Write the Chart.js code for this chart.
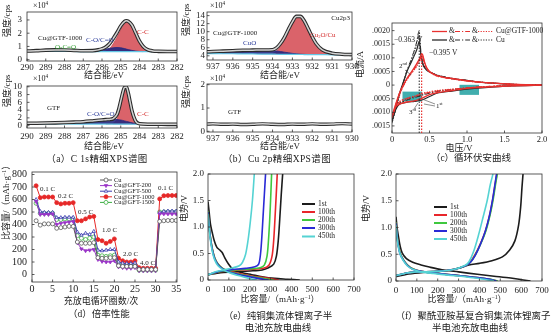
<!DOCTYPE html>
<html>
<head>
<meta charset="utf-8">
<script src="https://cdn.jsdelivr.net/npm/chart.js@4.4.1/dist/chart.umd.min.js"></script>
<style>
  html, body { margin: 0; padding: 0; background: #fff; }
  #page { position: relative; width: 553px; height: 335px; overflow: hidden; }
  #page canvas { position: absolute; left: 0; top: 0; }
  .cap { position: absolute; transform: translate(-50%, -50%); white-space: nowrap;
         font: 9.5px "Liberation Serif", "Noto Sans CJK SC", serif; color: #222; }
</style>
</head>
<body>
<div id="page">
  <canvas id="aTop" width="553" height="335"></canvas>
  <canvas id="aBot" width="553" height="335"></canvas>
  <canvas id="bTop" width="553" height="335"></canvas>
  <canvas id="bBot" width="553" height="335"></canvas>
  <canvas id="cv" width="553" height="335"></canvas>
  <canvas id="rate" width="553" height="335"></canvas>
  <canvas id="cuCell" width="553" height="335"></canvas>
  <canvas id="piCell" width="553" height="335"></canvas>
  <div class="cap" style="left:97px;top:158px;letter-spacing:0.4px">（a）C 1s精细XPS谱图</div>
  <div class="cap" style="left:277px;top:158px;letter-spacing:0.4px">（b）Cu 2p精细XPS谱图</div>
  <div class="cap" style="left:471px;top:157px">（c）循环伏安曲线</div>
  <div class="cap" style="left:99px;top:313px">（d）倍率性能</div>
  <div class="cap" style="left:278px;top:315px">（e）纯铜集流体锂离子半</div>
  <div class="cap" style="left:278px;top:327px">电池充放电曲线</div>
  <div class="cap" style="left:473px;top:315px">（f）聚酰亚胺基复合铜集流体锂离子</div>
  <div class="cap" style="left:470px;top:327px">半电池充放电曲线</div>
</div>
<script>
// ---- C 1s, Cu@GTF-1000 (x10^4 cps) ----
const aTopX = [290, 289.5, 289, 288.5, 288, 287.5, 287, 286.5, 286.2, 286, 285.8, 285.6, 285.4, 285.2, 285, 284.8, 284.7, 284.6, 284.4, 284.2, 284, 283.8, 283.6, 283.3, 283, 282.5, 282];
const aTopFit = [0.65, 0.68, 0.72, 0.74, 0.73, 0.7, 0.67, 0.68, 0.74, 0.82, 0.95, 1.2, 1.6, 2.05, 2.55, 2.88, 2.93, 2.9, 2.6, 2.0, 1.4, 1.0, 0.78, 0.66, 0.63, 0.62, 0.62];
const aTopBase = [0.62, 0.62, 0.62, 0.62, 0.62, 0.62, 0.61, 0.61, 0.61, 0.61, 0.61, 0.61, 0.61, 0.61, 0.61, 0.61, 0.61, 0.61, 0.61, 0.61, 0.61, 0.61, 0.6, 0.6, 0.6, 0.6, 0.6];
const aTopOCO = [0.64, 0.68, 0.71, 0.73, 0.71, 0.67, 0.63, 0.61, null, null, null, null, null, null, null, null, null, null, null, null, null, null, null, null, null, null, null];
const aTopCO = [null, null, null, null, null, null, 0.61, 0.65, 0.7, 0.75, 0.8, 0.86, 0.9, 0.92, 0.9, 0.84, 0.8, 0.76, 0.7, 0.65, 0.62, 0.61, null, null, null, null, null];
const aTopCC = [null, null, null, null, null, null, null, null, null, 0.61, 0.66, 0.82, 1.2, 1.7, 2.25, 2.7, 2.8, 2.78, 2.5, 1.92, 1.36, 0.98, 0.76, 0.64, 0.6, null, null];

// ---- C 1s, GTF ----
const aBotX = [290, 289.5, 289, 288.5, 288, 287.5, 287, 286.5, 286, 285.8, 285.6, 285.4, 285.2, 285.1, 285, 284.9, 284.8, 284.7, 284.6, 284.5, 284.4, 284.2, 284, 283.5, 283, 282.5, 282];
const aBotFit = [0.62, 0.64, 0.67, 0.72, 0.8, 0.9, 1.02, 1.22, 1.44, 1.55, 1.6, 1.81, 2.89, 4.33, 6.36, 8.37, 9.84, 9.92, 8.4, 6.07, 3.77, 1.13, 0.49, 0.36, 0.35, 0.34, 0.34];
const aBotBase = [0.45, 0.45, 0.44, 0.44, 0.43, 0.42, 0.42, 0.41, 0.4, 0.4, 0.4, 0.39, 0.39, 0.39, 0.39, 0.38, 0.38, 0.38, 0.38, 0.38, 0.37, 0.37, 0.36, 0.35, 0.35, 0.34, 0.34];
const aBotCO = [0.6, 0.62, 0.65, 0.7, 0.78, 0.88, 1.0, 1.2, 1.42, 1.52, 1.58, 1.6, 1.58, 1.52, 1.45, 1.35, 1.22, 1.1, 0.98, 0.85, 0.74, 0.55, 0.43, 0.36, 0.35, 0.34, 0.34];
const aBotCC = [null, null, null, null, null, null, null, null, null, 0.4, 0.42, 0.6, 1.7, 3.2, 5.3, 7.4, 9.0, 9.2, 7.8, 5.6, 3.4, 0.95, 0.42, 0.35, null, null, null];

// ---- Cu 2p3, Cu@GTF-1000 ----
const bX = [937.3, 937, 936.5, 936, 935.5, 935, 934.5, 934, 933.8, 933.6, 933.4, 933.2, 933, 932.8, 932.6, 932.4, 932.2, 932, 931.8, 931.5, 931, 930.5, 930];
const bFit = [5.0, 5.05, 5.15, 5.25, 5.35, 5.4, 5.45, 5.5, 5.95, 7.05, 8.6, 10.6, 12.45, 13.8, 13.8, 12.65, 10.7, 8.7, 7.0, 5.5, 4.65, 4.4, 4.3];
const bBase = [4.55, 4.55, 4.5, 4.5, 4.45, 4.45, 4.4, 4.4, 4.38, 4.37, 4.36, 4.35, 4.34, 4.33, 4.32, 4.31, 4.3, 4.3, 4.28, 4.27, 4.25, 4.22, 4.2];
const bCuO = [4.95, 5.0, 5.1, 5.2, 5.3, 5.35, 5.35, 5.3, 5.2, 5.05, 4.9, 4.75, 4.6, 4.5, 4.4, 4.35, 4.3, null, null, null, null, null, null];
const bCu2O = [null, null, null, null, null, null, null, 4.5, 5.2, 6.4, 8.1, 10.2, 12.2, 13.6, 13.7, 12.6, 10.7, 8.7, 7.0, 5.5, 4.6, 4.3, null];

// ---- Cu 2p, GTF ----
const bGtfX = [937.3, 937, 936.5, 936, 935.5, 935, 934.5, 934, 933.5, 933, 932.5, 932, 931.5, 931, 930.5, 930];
const bGtf = [0.31, 0.32, 0.3, 0.31, 0.29, 0.3, 0.32, 0.3, 0.29, 0.31, 0.3, 0.32, 0.3, 0.31, 0.33, 0.31];

// ---- cyclic voltammetry (V, A): cathodic sweep 2.0 -> 0, then anodic 0 -> 2.0 ----
const cvVRed = [2.0, 1.6, 1.2, 1.0, 0.8, 0.6, 0.5, 0.4, 0.3, 0.2, 0.1, 0.05, 0.0, 0.05, 0.1, 0.15, 0.2, 0.25, 0.3, 0.35, 0.38, 0.395, 0.41, 0.43, 0.46, 0.5, 0.6, 0.8, 1.0, 1.2, 1.6, 2.0];
const cvGtf1 = [0, -0.00003, -0.00008, -0.00012, -0.0002, -0.00028, -0.00035, -0.00048, -0.00058, -0.00062, -0.0007, -0.0008, -0.00115, -0.0007, -0.0003, 0.0, 0.00025, 0.00045, 0.00065, 0.00088, 0.00105, 0.00115, 0.0011, 0.00088, 0.00065, 0.0005, 0.00035, 0.00024, 0.00016, 0.0001, 0.00003, 0];
const cvGtf2 = [0, -0.00002, -0.00006, -0.0001, -0.00016, -0.00022, -0.00027, -0.00033, -0.00042, -0.0005, -0.00062, -0.00078, -0.00118, -0.00072, -0.00032, -0.00002, 0.00022, 0.00042, 0.0006, 0.00082, 0.00099, 0.00108, 0.00104, 0.00084, 0.00063, 0.00049, 0.00034, 0.00023, 0.00015, 0.0001, 0.00003, 0];
const cvGtf3 = [0, -0.00002, -0.00006, -0.0001, -0.00015, -0.0002, -0.00025, -0.0003, -0.0004, -0.00048, -0.0006, -0.00076, -0.0012, -0.00074, -0.00034, -0.00004, 0.0002, 0.0004, 0.00057, 0.00078, 0.00094, 0.00102, 0.00099, 0.0008, 0.00061, 0.00048, 0.00033, 0.00023, 0.00015, 0.0001, 0.00003, 0];
const cvVBlack = [2.0, 1.6, 1.2, 1.0, 0.8, 0.6, 0.5, 0.4, 0.3, 0.2, 0.1, 0.05, 0.0, 0.05, 0.1, 0.15, 0.2, 0.25, 0.3, 0.33, 0.35, 0.363, 0.375, 0.39, 0.42, 0.46, 0.5, 0.6, 0.8, 1.0, 1.2, 1.6, 2.0];
const cvCu1 = [0, -0.00003, -0.0001, -0.00015, -0.00022, -0.0003, -0.00042, -0.00055, -0.0006, -0.00063, -0.0007, -0.0009, -0.0013, -0.0008, -0.0003, 0.0001, 0.0005, 0.0008, 0.0011, 0.0013, 0.0015, 0.0016, 0.0014, 0.001, 0.0007, 0.00055, 0.00048, 0.00036, 0.00024, 0.00017, 0.0001, 0.00003, 0];
const cvCu2 = [0, -0.00002, -0.00007, -0.00011, -0.00017, -0.00024, -0.0003, -0.00038, -0.00046, -0.00055, -0.00068, -0.0009, -0.00135, -0.00085, -0.00035, 0.0001, 0.00055, 0.0009, 0.0013, 0.0016, 0.0019, 0.002, 0.0016, 0.0011, 0.00075, 0.00058, 0.0005, 0.00037, 0.00025, 0.00017, 0.0001, 0.00003, 0];
const cvCu3 = [0, -0.00002, -0.00007, -0.00011, -0.00016, -0.00022, -0.00028, -0.00035, -0.00043, -0.00052, -0.00066, -0.00088, -0.0014, -0.0009, -0.0004, 0.00005, 0.0005, 0.00085, 0.00125, 0.00155, 0.00182, 0.0019, 0.00155, 0.00105, 0.00072, 0.00056, 0.00049, 0.00036, 0.00024, 0.00017, 0.0001, 0.00003, 0];
const cvPeakRed = 0.395, cvPeakBlack = 0.363;
const cvBoxes = [[0.14, 0.4, -0.00024, -0.0006], [0.9, 1.16, 0.00001, -0.00036]];

// ---- rate capability (mAh/g) ----
const rateCycle = Array.from({ length: 35 }, (_, i) => i + 1);
const rateCu = [430, 395, 405, 405, 405, 370, 375, 380, 385, 385, 260, 250, 250, 250, 255, 135, 130, 130, 135, 135, 70, 65, 65, 65, 65, 40, 40, 40, 40, 40, 425, 430, 432, 432, 432];
const rate200 = [585, 480, 480, 480, 485, 400, 410, 415, 420, 425, 255, 205, 190, 195, 200, 120, 105, 100, 100, 110, 60, 55, 50, 50, 55, 30, 30, 30, 30, 30, 485, 485, 485, 485, 485];
const rate500 = [600, 505, 497, 497, 497, 455, 455, 458, 458, 458, 340, 315, 330, 320, 345, 195, 190, 195, 200, 200, 100, 90, 88, 88, 92, 45, 45, 45, 45, 45, 495, 505, 508, 508, 508];
const rate1000 = [710, 615, 620, 620, 620, 575, 565, 570, 570, 575, 430, 430, 445, 460, 465, 280, 270, 250, 265, 285, 130, 110, 100, 100, 110, 55, 50, 50, 50, 50, 605, 630, 632, 632, 632];
const rate1500 = [570, 490, 490, 490, 490, 440, 440, 445, 445, 445, 310, 290, 280, 290, 300, 155, 150, 145, 150, 155, 80, 75, 70, 70, 75, 35, 35, 35, 35, 35, 500, 500, 500, 500, 500];
const rateNames = ['Cu', 'Cu@GFT-200', 'Cu@GFT-500', 'Cu@GFT-1000', 'Cu@GFT-1500'];
const rateSteps = ['0.1 C', '0.2 C', '0.5 C', '1.0 C', '2.0 C', '4.0 C', '0.1 C'];

// ---- galvanostatic curves, [capacity mAh/g, voltage V] ----
const cycleNames = ['1st', '100th', '200th', '300th', '450th'];
const cuChg1 = [[0, 0.1], [60, 0.14], [120, 0.15], [200, 0.17], [260, 0.19], [290, 0.23], [315, 0.3], [328, 0.45], [337, 0.75], [344, 1.15], [351, 1.6], [358, 2.0]];
const cuChg100 = [[0, 0.1], [60, 0.16], [120, 0.18], [200, 0.2], [265, 0.22], [292, 0.28], [307, 0.45], [315, 0.75], [321, 1.15], [327, 1.6], [332, 2.0]];
const cuChg200 = [[0, 0.1], [60, 0.16], [120, 0.19], [200, 0.21], [250, 0.23], [270, 0.28], [283, 0.45], [290, 0.75], [296, 1.15], [301, 1.6], [305, 2.0]];
const cuChg300 = [[0, 0.1], [60, 0.17], [120, 0.2], [180, 0.22], [225, 0.25], [243, 0.3], [252, 0.5], [258, 0.8], [264, 1.2], [270, 1.6], [276, 2.0]];
const cuChg450 = [[0, 0.1], [40, 0.16], [75, 0.19], [120, 0.23], [150, 0.27], [165, 0.33], [180, 0.48], [192, 0.75], [203, 1.1], [213, 1.5], [222, 2.0]];
const cuDis1 = [[0, 1.48], [5, 1.3], [12, 1.05], [20, 0.9], [30, 0.74], [42, 0.62], [55, 0.57], [68, 0.52], [80, 0.42], [95, 0.32], [120, 0.2], [160, 0.14], [210, 0.1], [260, 0.06], [320, 0.03], [380, 0.015], [440, 0]];
const cuDis100 = [[0, 1.3], [4, 1.1], [10, 0.85], [20, 0.6], [32, 0.42], [48, 0.3], [70, 0.22], [100, 0.17], [150, 0.12], [200, 0.08], [260, 0.05], [310, 0.02], [340, 0]];
const cuDis200 = [[0, 1.3], [4, 1.1], [10, 0.85], [20, 0.6], [32, 0.42], [48, 0.3], [70, 0.22], [100, 0.16], [150, 0.11], [200, 0.07], [250, 0.04], [290, 0.015], [315, 0]];
const cuDis300 = [[0, 1.28], [4, 1.08], [10, 0.83], [20, 0.58], [32, 0.4], [48, 0.29], [70, 0.21], [100, 0.15], [150, 0.1], [200, 0.06], [240, 0.03], [270, 0.01], [290, 0]];
const cuDis450 = [[0, 1.25], [4, 1.05], [10, 0.8], [20, 0.55], [32, 0.38], [48, 0.27], [70, 0.2], [100, 0.14], [140, 0.09], [180, 0.05], [210, 0.02], [235, 0]];

const piChg1 = [[0, 0.08], [60, 0.13], [130, 0.16], [200, 0.175], [260, 0.2], [310, 0.25], [350, 0.3], [400, 0.33], [460, 0.38], [510, 0.45], [545, 0.58], [570, 0.75], [588, 1.05], [598, 1.4], [604, 1.75], [609, 2.0]];
const piChg100 = [[0, 0.1], [50, 0.15], [100, 0.17], [200, 0.18], [280, 0.22], [330, 0.28], [355, 0.35], [380, 0.5], [405, 0.7], [430, 0.95], [450, 1.25], [465, 1.55], [477, 1.85], [484, 2.0]];
const piChg200 = [[0, 0.1], [50, 0.15], [100, 0.17], [200, 0.18], [280, 0.22], [330, 0.28], [357, 0.35], [382, 0.5], [407, 0.7], [432, 0.95], [452, 1.25], [467, 1.55], [479, 1.85], [486, 2.0]];
const piChg300 = [[0, 0.1], [50, 0.15], [100, 0.17], [200, 0.18], [280, 0.22], [330, 0.28], [355, 0.34], [380, 0.48], [404, 0.68], [428, 0.93], [448, 1.22], [463, 1.52], [475, 1.82], [482, 2.0]];
const piChg450 = [[0, 0.1], [50, 0.15], [100, 0.17], [200, 0.18], [280, 0.22], [330, 0.29], [350, 0.36], [372, 0.55], [395, 0.85], [418, 1.2], [437, 1.5], [452, 1.8], [465, 2.0]];
const piDis1 = [[0, 1.2], [5, 1.0], [11, 0.85], [20, 0.65], [30, 0.52], [50, 0.42], [80, 0.35], [120, 0.3], [160, 0.26], [220, 0.21], [300, 0.17], [390, 0.125], [470, 0.09], [550, 0.055], [610, 0.02], [645, 0]];
const piDis100 = [[0, 1.1], [4, 0.9], [10, 0.7], [20, 0.52], [35, 0.4], [55, 0.3], [80, 0.23], [120, 0.18], [180, 0.15], [250, 0.12], [330, 0.09], [400, 0.06], [450, 0.03], [485, 0]];
const piDis200 = [[0, 1.1], [4, 0.9], [10, 0.7], [20, 0.52], [35, 0.4], [55, 0.3], [80, 0.23], [120, 0.18], [180, 0.15], [250, 0.12], [330, 0.09], [400, 0.06], [455, 0.03], [488, 0]];
const piDis300 = [[0, 1.08], [4, 0.88], [10, 0.68], [20, 0.5], [35, 0.39], [55, 0.29], [80, 0.22], [120, 0.18], [180, 0.15], [250, 0.12], [330, 0.09], [400, 0.06], [450, 0.03], [482, 0]];
const piDis450 = [[0, 1.05], [4, 0.85], [10, 0.66], [20, 0.5], [35, 0.38], [55, 0.28], [80, 0.22], [120, 0.17], [180, 0.14], [250, 0.11], [330, 0.08], [390, 0.05], [440, 0.02], [470, 0]];
const cycleColors = ['#1c1c1c', '#e8262b', '#3ec83e', '#2a2ad6', '#55d3d3'];

// ---------------------------------------------------------------
const W = 553, H = 335;
const FONT = '"Liberation Serif", "Noto Sans CJK SC", serif';
const INK = '#222';
const RED = '#e8312f';

const pts = (xs, ys) => xs.map((x, i) => ({ x, y: ys[i] }));
const pairs = arr => arr.map(([x, y]) => ({ x, y }));

function line(data, color, width, more) {
  return Object.assign({ data, borderColor: color, backgroundColor: color, borderWidth: width, fill: false, pointRadius: 0, tension: 0 }, more || {});
}

function tk(step, size, pad, cb) {
  return { stepSize: step, includeBounds: false, autoSkip: false, maxRotation: 0, minRotation: 0,
           padding: pad, color: INK, font: { family: FONT, size }, callback: cb || (v => String(Math.round(v))) };
}
function sc(min, max, ticks, extra) {
  return Object.assign({ type: 'linear', min, max, ticks, grid: { display: false, drawTicks: false }, border: { display: false } }, extra || {});
}
const dec = d => v => Math.abs(v) < 1e-9 ? '0' : (v < 0 ? '−' : '') + Math.abs(v).toFixed(d);

// text with optional super/subscript parts: 'txt' or ['txt', 1 | -1]
function rich(ctx, segs, x, y, size, color, align, rot) {
  ctx.save();
  ctx.translate(x, y);
  if (rot) ctx.rotate(rot);
  ctx.fillStyle = color;
  ctx.textBaseline = 'middle';
  ctx.textAlign = 'left';
  const parts = segs.map(s => typeof s === 'string' ? [s, 0] : s);
  const fontOf = sh => `${sh ? size * 0.65 : size}px ${FONT}`;
  let w = 0;
  parts.forEach(([t, sh]) => { ctx.font = fontOf(sh); w += ctx.measureText(t).width; });
  let cx = align === 'center' ? -w / 2 : align === 'right' ? -w : 0;
  parts.forEach(([t, sh]) => {
    ctx.font = fontOf(sh);
    ctx.fillText(t, cx, -sh * size * 0.3);
    cx += ctx.measureText(t).width;
  });
  ctx.restore();
}

function seg(ctx, x1, y1, x2, y2, color, width, dash) {
  ctx.save();
  ctx.strokeStyle = color; ctx.lineWidth = width; ctx.setLineDash(dash || []);
  ctx.beginPath(); ctx.moveTo(x1, y1); ctx.lineTo(x2, y2); ctx.stroke();
  ctx.restore();
}

// box outline and short inward ticks
const frame = {
  id: 'frame',
  afterDraw(chart) {
    const { ctx, chartArea: a, scales } = chart;
    ctx.save();
    ctx.strokeStyle = '#333'; ctx.lineWidth = 0.8;
    ctx.strokeRect(a.left, a.top, a.right - a.left, a.bottom - a.top);
    scales.x.ticks.forEach(t => { const p = scales.x.getPixelForValue(t.value); seg(ctx, p, a.bottom, p, a.bottom - 2.5, '#333', 0.8); });
    scales.y.ticks.forEach(t => { const p = scales.y.getPixelForValue(t.value); seg(ctx, a.left, p, a.left + 2.5, p, '#333', 0.8); });
    ctx.restore();
  }
};

function extras(notes, before, after) {
  return {
    id: 'extras',
    beforeDatasetsDraw(chart) { if (before) before(chart, chart.ctx); },
    afterDraw(chart) {
      const ctx = chart.ctx;
      if (after) after(chart, ctx);
      notes.forEach(n => rich(ctx, [].concat(n.s), n.x, n.y, n.size || 9, n.color || INK, n.align || 'left', n.rot || 0));
    }
  };
}

function panel(id, box, x, y, datasets, notes, before, after) {
  const yW = 20, xH = 14;
  x.afterFit = s => { s.height = xH; };
  y.afterFit = s => { s.width = yW; };
  return new Chart(document.getElementById(id), {
    type: 'line',
    data: { datasets },
    options: {
      responsive: false, animation: false, devicePixelRatio: 1,
      layout: { padding: { left: box.l - yW, top: box.t, right: W - box.r, bottom: H - box.b - xH } },
      plugins: { legend: { display: false }, tooltip: { enabled: false } },
      scales: { x, y }
    },
    plugins: [frame, extras(notes || [], before, after)]
  });
}

const UP = -Math.PI / 2;
const X10 = ['×10', ['4', 1]];
const MONO = { cubicInterpolationMode: 'monotone' };
const PEAK_RED = 'rgba(214,82,90,0.9)';
const PEAK_NAVY = 'rgba(38,40,128,0.9)';
const BASE_BLUE = '#63c7e6';

function xpsSets(xs, base, fit, comps) {
  const sets = [line(pts(xs, base), BASE_BLUE, 1.2, Object.assign({ order: 2 }, MONO))];
  comps.forEach(c => sets.push(line(pts(xs, c.y), c.line, 0.8, Object.assign({ order: c.order, fill: c.fill === false ? false : 0, backgroundColor: c.fillColor }, MONO))));
  sets.push(line(pts(xs, fit), '#2a2a2a', 3.6, Object.assign({ order: 1 }, MONO)));
  sets.push(line(pts(xs, fit), '#d4d4d4', 1.5, Object.assign({ order: 0 }, MONO)));
  return sets;
}

// (a) C 1s
panel('aTop', { l: 27, t: 12, r: 177, b: 61 },
  sc(282, 290, tk(1, 9, 1), { reverse: true }),
  sc(-0.1, 3.6, tk(1, 9, 5)),
  xpsSets(aTopX, aTopBase, aTopFit, [
    { y: aTopCC, line: '#c9464e', fillColor: PEAK_RED, order: 5 },
    { y: aTopCO, line: '#262880', fillColor: PEAK_NAVY, order: 4 },
    { y: aTopOCO, line: '#3aa83a', fill: false, order: 3 }
  ]),
  [
    { s: '强度/cps', x: 8, y: 37, rot: UP },
    { s: X10, x: 33, y: 6, size: 8 },
    { s: '结合能/eV', x: 104, y: 76, align: 'center' },
    { s: 'Cu@GTF-1000', x: 38, y: 38, size: 7 },
    { s: 'O-C=O', x: 55, y: 47, size: 7, color: '#2f9e2f' },
    { s: 'C-O/C=O', x: 86, y: 40, size: 7, color: '#2a3b9a' },
    { s: 'C-C', x: 137, y: 32, size: 7, color: '#d42b2b' }
  ]);

panel('aBot', { l: 27, t: 86, r: 177, b: 128 },
  sc(282, 290, tk(1, 9, 3), { reverse: true }),
  sc(-0.6, 10.2, tk(2, 9, 5)),
  xpsSets(aBotX, aBotBase, aBotFit, [
    { y: aBotCC, line: '#c9464e', fillColor: PEAK_RED, order: 5 },
    { y: aBotCO, line: '#262880', fillColor: PEAK_NAVY, order: 4 }
  ]),
  [
    { s: '强度/cps', x: 8, y: 107, rot: UP },
    { s: X10, x: 33, y: 79, size: 8 },
    { s: '结合能/eV', x: 104, y: 147, align: 'center' },
    { s: 'GTF', x: 47, y: 108, size: 7 },
    { s: 'C-O/C=O', x: 87, y: 114, size: 7, color: '#2a3b9a' },
    { s: 'C-C', x: 137, y: 114, size: 7, color: '#d42b2b' }
  ]);

// (b) Cu 2p
panel('bTop', { l: 207, t: 12, r: 352, b: 60 },
  sc(930, 937.3, tk(1, 9, 1), { reverse: true }),
  sc(2.95, 14.9, tk(2, 9, 2)),
  xpsSets(bX, bBase, bFit, [
    { y: bCu2O, line: '#c9464e', fillColor: PEAK_RED, order: 5 },
    { y: bCuO, line: '#262880', fillColor: PEAK_NAVY, order: 4 }
  ]),
  [
    { s: '强度/cps', x: 187, y: 36, rot: UP },
    { s: X10, x: 210, y: 6, size: 8 },
    { s: '结合能/eV', x: 280, y: 76, align: 'center' },
    { s: 'Cu@GTF-1000', x: 213, y: 33, size: 7 },
    { s: 'CuO', x: 243, y: 43, size: 7, color: '#2a3b9a' },
    { s: ['Cu', ['2', -1], 'O/Cu'], x: 310, y: 35, size: 7, color: '#d42b2b' },
    { s: 'Cu2p3', x: 350, y: 18, size: 7, align: 'right' }
  ]);

panel('bBot', { l: 207, t: 84, r: 352, b: 132 },
  sc(930, 937.3, tk(1, 9, 1), { reverse: true }),
  sc(-0.03, 2.03, tk(1, 9, 2)),
  [
    line(pts(bGtfX, bGtf), '#2a2a2a', 3.4, Object.assign({ order: 1 }, MONO)),
    line(pts(bGtfX, bGtf), '#d4d4d4', 1.5, Object.assign({ order: 0 }, MONO))
  ],
  [
    { s: '强度/cps', x: 187, y: 108, rot: UP },
    { s: X10, x: 210, y: 79, size: 8 },
    { s: '结合能/eV', x: 280, y: 147, align: 'center' },
    { s: 'GTF', x: 228, y: 112, size: 7 }
  ]);

// (c) cyclic voltammetry
const DASHDOT = [5, 2, 1.2, 2];
const DOTTED = [1.2, 1.4];
panel('cv', { l: 392, t: 23, r: 542, b: 133 },
  sc(0, 2.0, tk(0.5, 8.5, 2, v => v === 0 ? '0' : v.toFixed(1))),
  sc(-0.00176, 0.00228, tk(0.0005, 8, 2, dec(4))),
  [
    line(pts(cvVRed, cvGtf1), RED, 1.4, { tension: 0.25 }),
    line(pts(cvVRed, cvGtf2), RED, 1.2, { tension: 0.25, borderDash: DASHDOT }),
    line(pts(cvVRed, cvGtf3), RED, 1.2, { tension: 0.25, borderDash: DOTTED }),
    line(pts(cvVBlack, cvCu1), '#2b2b2b', 1.2, { tension: 0.25 }),
    line(pts(cvVBlack, cvCu2), '#2b2b2b', 1.0, { tension: 0.25, borderDash: DASHDOT }),
    line(pts(cvVBlack, cvCu3), '#2b2b2b', 1.0, { tension: 0.25, borderDash: DOTTED })
  ],
  [
    { s: '电流/A', x: 361, y: 78, rot: UP },
    { s: '电压/V', x: 459, y: 148.5, align: 'center' },
    { s: '−0.363 V', x: 394, y: 40, size: 7.5 },
    { s: '−0.395 V', x: 429, y: 53, size: 7.5 },
    { s: '&', x: 449, y: 31.5, size: 7.5 },
    { s: '&', x: 472, y: 31.5, size: 7.5 },
    { s: 'Cu@GTF-1000', x: 496, y: 31.5, size: 7.5 },
    { s: '&', x: 449, y: 40, size: 7.5 },
    { s: '&', x: 472, y: 40, size: 7.5 },
    { s: 'Cu', x: 496, y: 40, size: 7.5 },
    { s: ['2', ['nd', 1]], x: 399, y: 66, size: 7 },
    { s: ['3', ['rd', 1]], x: 409, y: 112, size: 7 },
    { s: ['1', ['st', 1]], x: 436, y: 106, size: 7 }
  ],
  (chart, ctx) => {
    const sx = chart.scales.x, sy = chart.scales.y;
    ctx.save();
    ctx.fillStyle = 'rgba(32,160,160,0.85)';
    cvBoxes.forEach(([x1, x2, y1, y2]) => {
      const px = sx.getPixelForValue(x1), py = sy.getPixelForValue(y1);
      ctx.fillRect(px, py, sx.getPixelForValue(x2) - px, sy.getPixelForValue(y2) - py);
    });
    ctx.restore();
  },
  (chart, ctx) => {
    const sx = chart.scales.x, sy = chart.scales.y;
    const bottom = chart.chartArea.bottom;
    seg(ctx, sx.getPixelForValue(cvPeakBlack), bottom, sx.getPixelForValue(cvPeakBlack), sy.getPixelForValue(Math.max(...cvCu2)), '#2b2b2b', 1, [1.5, 1.5]);
    seg(ctx, sx.getPixelForValue(cvPeakRed), bottom, sx.getPixelForValue(cvPeakRed), sy.getPixelForValue(Math.max(...cvGtf1)), RED, 1.2, [1.5, 1.5]);
    // legend samples
    [[31.5, RED], [40, '#2b2b2b']].forEach(([yy, col]) => {
      seg(ctx, 432, yy, 447, yy, col, 1.3);
      seg(ctx, 455, yy, 470, yy, col, 1.1, DASHDOT);
      seg(ctx, 478, yy, 493, yy, col, 1.1, DOTTED);
    });
    // cycle pointers
    seg(ctx, 405, 70, 411, 75, '#444', 0.6);
    seg(ctx, 414, 109, 418, 103, '#444', 0.6);
    seg(ctx, 435, 104, 422, 99, '#444', 0.6);
    seg(ctx, 435, 106, 424, 104, '#444', 0.6);
  });

// (d) rate capability
const rateStyles = [
  [rateCu, '#5a5a5a', 'circle', '#fff', 0],
  [rate200, '#9a35c8', 'triangle', '#9a35c8', 180],
  [rate500, '#3a3ab0', 'triangle', '#fff', 0],
  [rate1000, '#e62828', 'circle', '#e62828', 0],
  [rate1500, '#3cae43', 'circle', '#fff', 0]
];
panel('rate', { l: 32, t: 172, r: 177, b: 282 },
  sc(0, 35.2, tk(5, 10, 1)),
  sc(-60, 820, tk(100, 10, 5)),
  rateStyles.map(([vals, col, ps, fillc, rot]) => line(pts(rateCycle, vals), col, 1, {
    pointStyle: ps, pointRadius: 2, pointBorderWidth: 0.8, pointBorderColor: col, pointBackgroundColor: fillc, pointRotation: rot
  })),
  [
    { s: ['比容量/（mAh·g', ['−1', 1], '）'], x: 7, y: 240, rot: UP },
    { s: '充放电循环圈数/次', x: 101, y: 302, align: 'center' },
    { s: rateSteps[0], x: 40, y: 189, size: 7 },
    { s: rateSteps[1], x: 58, y: 196, size: 7 },
    { s: rateSteps[2], x: 78, y: 212, size: 7 },
    { s: rateSteps[3], x: 102, y: 230, size: 7 },
    { s: rateSteps[4], x: 123, y: 254, size: 7 },
    { s: rateSteps[5], x: 140, y: 263, size: 7 },
    { s: rateSteps[6], x: 158, y: 188, size: 7 },
    ...rateNames.map((n, i) => ({ s: n, x: 114, y: 180 + i * 5.6, size: 6.5 }))
  ],
  null,
  (chart, ctx) => {
    rateStyles.forEach(([, col, ps, fillc, rot], i) => {
      const yy = 180 + i * 5.6;
      seg(ctx, 100, yy, 112, yy, col, 1);
      ctx.save();
      ctx.fillStyle = fillc; ctx.strokeStyle = col; ctx.lineWidth = 0.8;
      Chart.helpers.drawPoint(ctx, { pointStyle: ps, radius: 2, rotation: rot, borderWidth: 0.8 }, 106, yy);
      ctx.restore();
    });
  });

// (e)/(f) charge-discharge curves
function cellPanel(id, box, chg, dis, yTitleX, xTitleX, leg) {
  const sets = [];
  for (let i = chg.length - 1; i >= 0; i--) {
    sets.push(line(pairs(dis[i]), cycleColors[i], 1.6, { tension: 0.3 }));
    sets.push(line(pairs(chg[i]), cycleColors[i], 1.6, { tension: 0.3 }));
  }
  panel(id, box,
    sc(0, 700, tk(100, 9, 4)),
    sc(0, 2.0, tk(0.5, 9, 4, dec(1))),
    sets,
    [
      { s: '电势/V', x: yTitleX, y: 222, rot: UP },
      { s: ['比容量/（mAh·g', ['−1', 1], '）'], x: xTitleX, y: 300, align: 'center' },
      ...cycleNames.map((n, i) => ({ s: n, x: leg.x + 16, y: leg.y[i], size: 7.5 }))
    ],
    null,
    (chart, ctx) => cycleNames.forEach((n, i) => seg(ctx, leg.x, leg.y[i], leg.x + 13, leg.y[i], cycleColors[i], 2)));
}

cellPanel('cuCell', { l: 208, t: 174, r: 354, b: 280 },
  [cuChg1, cuChg100, cuChg200, cuChg300, cuChg450],
  [cuDis1, cuDis100, cuDis200, cuDis300, cuDis450],
  185, 280, { x: 302, y: [204, 212, 220, 228, 236.5] });

cellPanel('piCell', { l: 396, t: 174, r: 542, b: 281 },
  [piChg1, piChg100, piChg200, piChg300, piChg450],
  [piDis1, piDis100, piDis200, piDis300, piDis450],
  367, 467, { x: 434, y: [207, 215, 223, 231, 239] });
</script>
</body>
</html>
